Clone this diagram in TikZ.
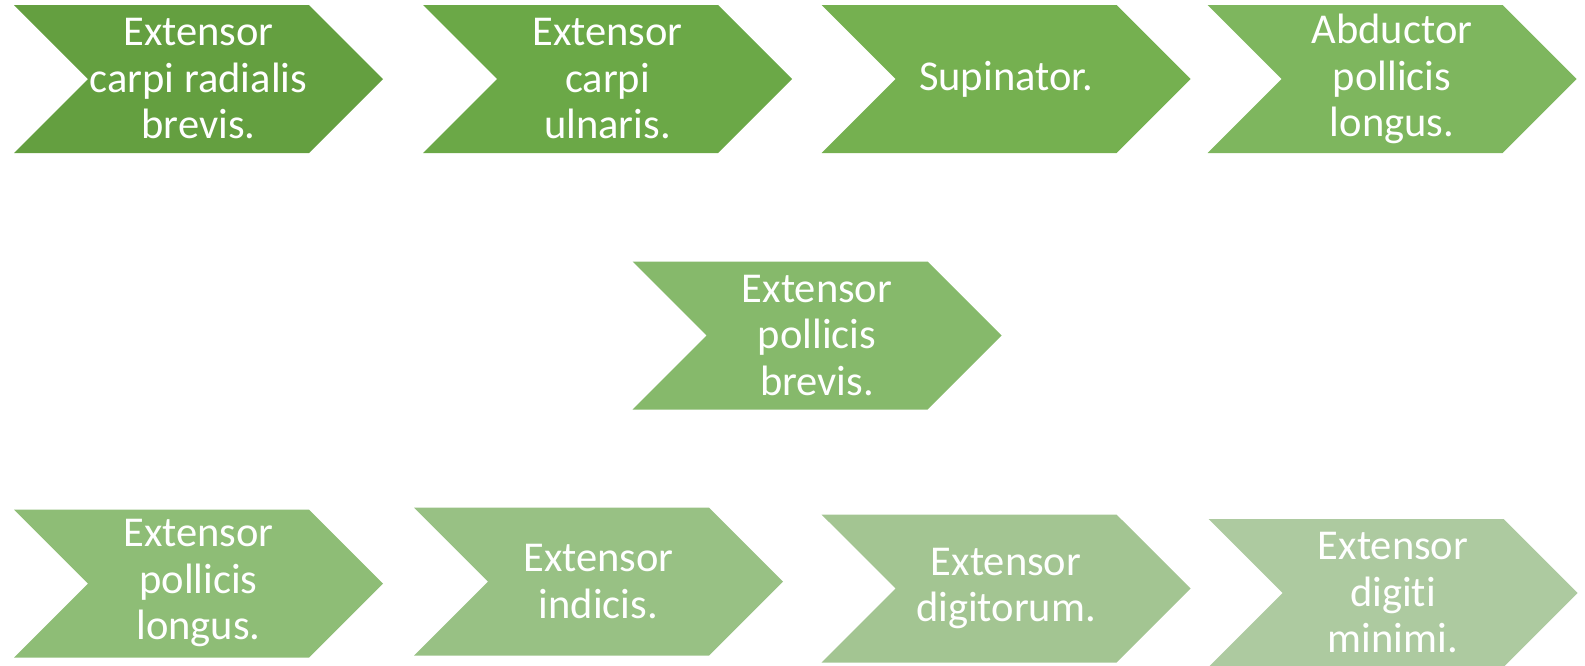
\documentclass[tikz,border=0pt]{standalone}
\usepackage{fontspec}
\setmainfont{Carlito}[Ligatures={NoCommon}]
\usetikzlibrary{shapes.symbols}
\definecolor{gone}{HTML}{649F40}
\definecolor{gtwo}{HTML}{6BA847}
\definecolor{gthree}{HTML}{75B050}
\definecolor{gfour}{HTML}{7EB65E}
\definecolor{gfive}{HTML}{86B96B}
\definecolor{gsix}{HTML}{8EBD76}
\definecolor{gseven}{HTML}{98C184}
\definecolor{geight}{HTML}{A3C592}
\definecolor{gnine}{HTML}{ADCAA0}
\tikzset{
  chev/.style={signal, signal from=west, signal to=east, signal pointer angle=90,
    minimum width=369pt, minimum height=148pt, inner sep=0pt, fill=#1,
    text=white, align=center, font=\fontsize{42.5}{46.5}\selectfont}
}
\begin{document}
\begin{tikzpicture}[x=1pt,y=-1pt]
    \useasboundingbox (0,0) rectangle (1585,665);
    % first row
    \node[chev=gone] (ecrb) at (198.5,79) {Extensor\\carpi radialis\\brevis.};
    \node[chev=gtwo] (ecu) at (607.5,79) {Extensor\\carpi\\ulnaris.};
    \node[chev=gthree] (sup) at (1006,79) {Supinator.};
    \node[chev=gfour] (apl) at (1392,79) {Abductor\\pollicis\\longus.};
    % middle
    \node[chev=gfive] (epb) at (817,335.5) {Extensor\\pollicis\\brevis.};
    % last row
    \node[chev=gsix] (epl) at (198.5,583.5) {Extensor\\pollicis\\longus.};
    \node[chev=gseven] (eind) at (598.5,581.5) {Extensor\\indicis.};
    \node[chev=geight] (edig) at (1006,588.5) {Extensor\\digitorum.};
    \node[chev=gnine] (edm) at (1393,593) {Extensor\\digiti\\minimi.};
  \end{tikzpicture}
\end{document}
